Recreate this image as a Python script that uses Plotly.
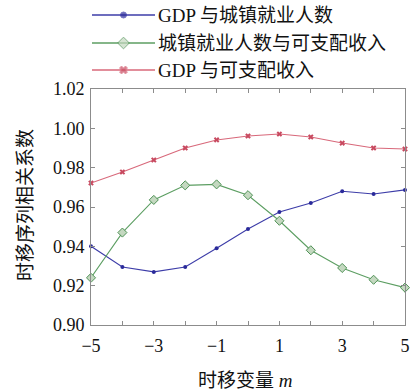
import plotly.graph_objects as go

# Time-shift variable m
shift = [-5, -4, -3, -2, -1, 0, 1, 2, 3, 4, 5]

# Correlation coefficients for each shift
gdp_employment = [0.940, 0.9295, 0.927, 0.9295, 0.939, 0.9488, 0.9575, 0.962, 0.968, 0.9666, 0.9687]
employment_income = [0.924, 0.947, 0.9636, 0.971, 0.9715, 0.966, 0.953, 0.938, 0.929, 0.923, 0.919]
gdp_income = [0.9722, 0.9778, 0.9839, 0.990, 0.9941, 0.9961, 0.9971, 0.9956, 0.9925, 0.990, 0.9895]

series_names = ["GDP 与城镇就业人数", "城镇就业人数与可支配收入", "GDP 与可支配收入"]
x_tick_vals = shift
x_tick_text = ["−5", "", "−3", "", "−1", "", "1", "", "3", "", "5"]
y_tick_vals = [0.90, 0.92, 0.94, 0.96, 0.98, 1.00, 1.02]

W, H = 410, 392
PL, PR, PT, PB = 91, 405, 89, 325  # plot box in pixels

FONT = "Liberation Serif, Times New Roman, Noto Sans CJK SC, serif"
AXIS_GRAY = "#8c8c8c"

styles = [
    dict(color="#3c3ca8", marker=dict(symbol="circle", size=4, color="#2a2a9a")),
    dict(color="#5c9e62", marker=dict(symbol="diamond", size=7, color="#c4d8c0",
                                      line=dict(color="#4f9256", width=1))),
    dict(color="#d8687a", marker=dict(symbol="x", size=5, color="#c84a60")),
]
series = [gdp_employment, employment_income, gdp_income]

fig = go.Figure()

for name, ys, st in zip(series_names, series, styles):
    fig.add_trace(go.Scatter(
        x=shift, y=ys, mode="lines+markers", name=name,
        line=dict(color=st["color"], width=1.1),
        marker=st["marker"], showlegend=False, cliponaxis=False,
    ))

# Legend keys drawn in a pixel-based overlay frame
LEG_X0, LEG_X1, LEG_TEXT_X = 92, 155, 156
LEG_ROWS = [15, 43, 70]
for name, st, ry in zip(series_names, styles, LEG_ROWS):
    mid = (LEG_X0 + LEG_X1) / 2
    m = dict(st["marker"])
    m["size"] = [0, m["size"] + 2, 0]
    fig.add_trace(go.Scatter(
        x=[LEG_X0, mid, LEG_X1], y=[ry, ry, ry], mode="lines+markers",
        line=dict(color=st["color"], width=1.4), marker=m,
        xaxis="x2", yaxis="y2", showlegend=False, hoverinfo="skip",
    ))
    fig.add_annotation(x=LEG_TEXT_X, y=ry, xref="x2", yref="y2", text=name,
                       showarrow=False, xanchor="left", yanchor="middle",
                       font=dict(family=FONT, size=19, color="#111"))

# Axis titles
fig.add_annotation(x=25, y=(PT + PB) / 2 - 2, xref="x2", yref="y2",
                   text="时移序列相关系数", textangle=-90, showarrow=False,
                   font=dict(family=FONT, size=19, color="#111"))
fig.add_annotation(x=245, y=380, xref="x2", yref="y2",
                   text="时移变量 <i>m</i>", showarrow=False,
                   font=dict(family=FONT, size=19, color="#111"))

axis_common = dict(
    showline=True, linecolor=AXIS_GRAY, linewidth=1, mirror="ticks",
    ticks="inside", ticklen=4, tickcolor=AXIS_GRAY, tickwidth=1,
    showgrid=False, zeroline=False, automargin=False,
    tickfont=dict(family=FONT, size=18, color="#111"),
)

fig.update_layout(
    template="none",
    width=W, height=H,
    margin=dict(l=0, r=0, t=0, b=0, pad=0),
    paper_bgcolor="white", plot_bgcolor="rgba(0,0,0,0)",
    xaxis=dict(domain=[PL / W, PR / W], range=[-5, 5],
               tickvals=x_tick_vals, ticktext=x_tick_text,
               ticklabelstandoff=4, ticklabeloverflow="allow", **axis_common),
    yaxis=dict(domain=[(H - PB) / H, (H - PT) / H], range=[0.90, 1.02],
               tickvals=y_tick_vals, tickformat=".2f",
               ticklabelstandoff=2, ticklabeloverflow="allow", **axis_common),
    xaxis2=dict(domain=[0, 1], range=[0, W], visible=False, anchor="y2",
                automargin=False),
    yaxis2=dict(domain=[0, 1], range=[H, 0], visible=False, anchor="x2",
                automargin=False),
    showlegend=False,
)

fig.write_html("out.html")
